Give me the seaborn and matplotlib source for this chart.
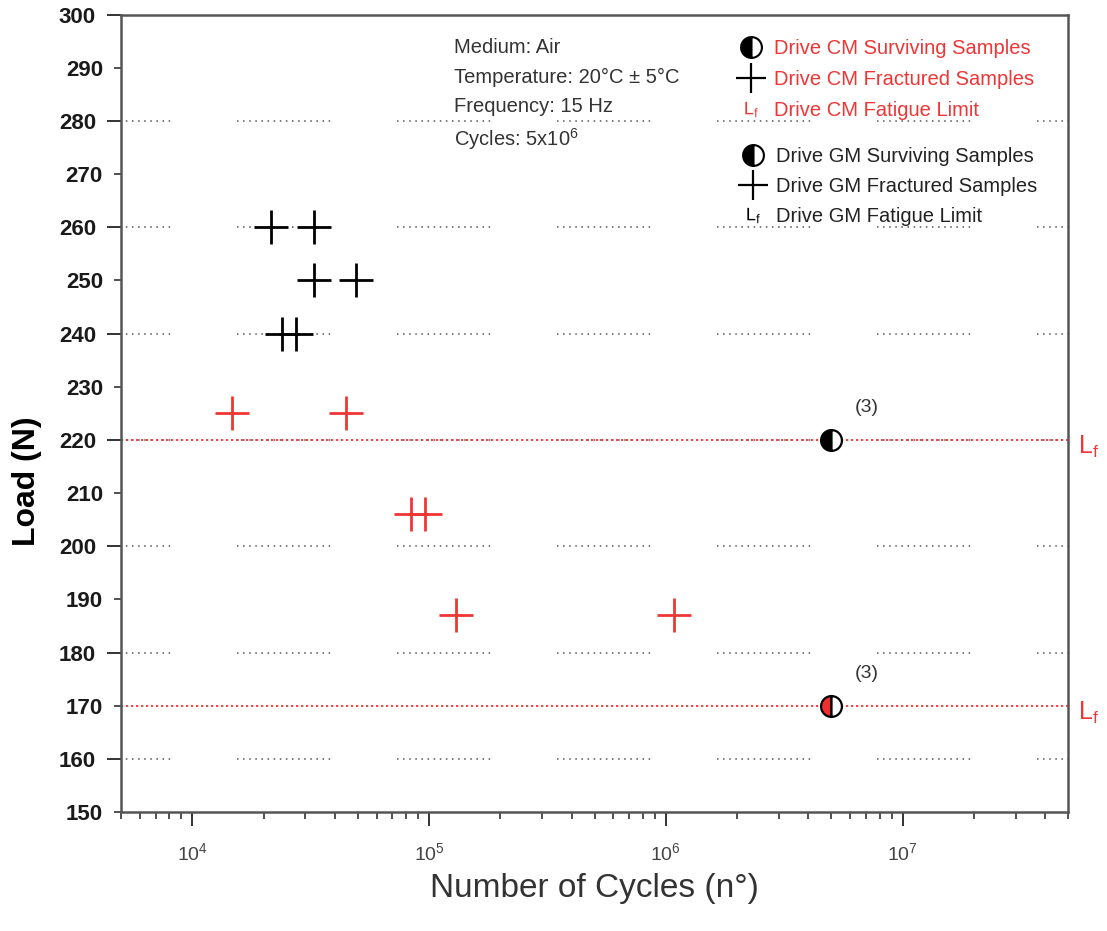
import numpy as np
import pandas as pd
import matplotlib
matplotlib.use("Agg")
import matplotlib.pyplot as plt
from matplotlib.lines import Line2D
from matplotlib.ticker import LogLocator, MultipleLocator, NullFormatter, FormatStrFormatter
import seaborn as sns

# dados
gm_cycles = [21500, 32600, 32600, 49300, 23900, 27300]
gm_load = [260, 260, 250, 250, 240, 240]
cm_cycles = [14700, 44400, 84000, 96000, 130000, 1080000]
cm_load = [225, 225, 206, 206, 187, 187]
surv_cycles = [5e6, 5e6]
surv_load = [220, 170]
surv_fill = ["black", "#f03030"]
fatigue_limits = [220, 170]
runout_count = ["(3)", "(3)"]
info_lines = ["Medium: Air", "Temperature: 20°C ± 5°C", "Frequency: 15 Hz",
              "Cycles: 5x10$^{\\mathregular{6}}$"]
cm_labels = ["Drive CM Surviving Samples", "Drive CM Fractured Samples", "Drive CM Fatigue Limit"]
gm_labels = ["Drive GM Surviving Samples", "Drive GM Fractured Samples", "Drive GM Fatigue Limit"]

RED = "#f03535"

sns.set_style("ticks")
plt.rcParams["font.family"] = ["Liberation Sans", "DejaVu Sans"]
plt.rcParams["mathtext.fontset"] = "custom"
plt.rcParams["mathtext.rm"] = "Liberation Sans"
plt.rcParams["mathtext.it"] = "Liberation Sans:italic"
plt.rcParams["lines.scale_dashes"] = False

df = pd.DataFrame({
    "cycles": gm_cycles + cm_cycles,
    "load": gm_load + cm_load,
    "grupo": ["GM"] * len(gm_cycles) + ["CM"] * len(cm_cycles),
})

fig = plt.figure(figsize=(11.07, 9.31), dpi=100)
ax = fig.add_axes([0.1093, 0.1278, 0.8555, 0.8565])
ax.set_xscale("log")

# grade pontilhada interrompida (estilo Origin)
grid_pattern = [1.1, 3.3] * 15 + [1.1, 48.1]
ax.yaxis.grid(True, which="major", color="#555555", lw=1.1, linestyle=(31.7, grid_pattern))
ax.set_axisbelow(True)

for lim in fatigue_limits:
    ax.axhline(lim, color=RED, lw=1.3, linestyle=(0, (1.6, 2.0)), zorder=2)

sns.scatterplot(data=df, x="cycles", y="load", hue="grupo",
                palette={"GM": "black", "CM": RED}, marker="+", s=600,
                linewidth=2.0, legend=False, ax=ax, zorder=3)

for c, l, fc in zip(surv_cycles, surv_load, surv_fill):
    ax.plot(c, l, marker="o", linestyle="", markersize=15, fillstyle="left",
            markerfacecolor=fc, markerfacecoloralt="white", markeredgecolor="black",
            markeredgewidth=1.6, zorder=4)

for l, t in zip(surv_load, runout_count):
    ax.annotate(t, (5e6, l), xytext=(17, 23), textcoords="offset points",
                fontsize=14, color="#333333", ha="left", va="center")
    ax.annotate(r"$\mathregular{L_f}$", (1, l), xycoords=("axes fraction", "data"),
                xytext=(7, -5), textcoords="offset points", fontsize=18,
                color=RED, ha="left", va="center", annotation_clip=False)

ax.set_xlim(5e3, 5e7)
ax.set_ylim(150, 300)
ax.xaxis.set_major_locator(LogLocator(base=10, numticks=10))
ax.xaxis.set_minor_locator(LogLocator(base=10, subs=np.arange(2, 10), numticks=20))
ax.xaxis.set_minor_formatter(NullFormatter())
ax.yaxis.set_major_locator(MultipleLocator(20))
ax.yaxis.set_minor_locator(MultipleLocator(10))
ax.yaxis.set_major_formatter(FormatStrFormatter("%d"))
ax.yaxis.set_minor_formatter(FormatStrFormatter("%d"))

for sp in ax.spines.values():
    sp.set_color("#555555")
    sp.set_linewidth(1.8)
ax.tick_params(which="major", length=10, width=1.4, color="#333333", direction="out")
ax.tick_params(which="minor", length=5, width=1.2, color="#333333", direction="out")
ax.tick_params(axis="y", which="both", labelsize=16, labelcolor="#1a1a1a", pad=8)
ax.tick_params(axis="x", which="both", labelsize=14, labelcolor="#444444", pad=12)
for lab in ax.get_yticklabels(which="both"):
    lab.set_fontweight("bold")

ax.set_xlabel("Number of Cycles (n°)", fontsize=24, color="#333333", labelpad=6)
ax.set_ylabel("Load (N)", fontsize=23, fontweight="bold", color="black")
ax.yaxis.set_label_coords(-0.083, 0.415)

# bloco de condições do ensaio
info_y = [0.9495, 0.9173, 0.8851, 0.8510]
for txt, yy in zip(info_lines, info_y):
    fig.text(0.410, yy, txt, fontsize=14.5, color="#333333", ha="left", va="center")

def handles(color):
    return [
        Line2D([], [], marker="o", linestyle="", markersize=15, fillstyle="left",
               markerfacecolor="black", markerfacecoloralt="white",
               markeredgecolor="black", markeredgewidth=1.5),
        Line2D([], [], marker="+", linestyle="", markersize=21, markeredgewidth=1.6,
               color="black"),
        Line2D([], [], marker=r"$\mathregular{L_f}$", linestyle="", markersize=11,
               markeredgewidth=0, color=color),
    ]

leg1 = ax.legend(handles("#f03535"), cm_labels, loc="upper left",
                 bbox_to_anchor=(0.669, 0.958), bbox_transform=fig.transFigure,
                 frameon=False, fontsize=14.5, labelcolor=RED, handlelength=1.0,
                 handletextpad=0.65, labelspacing=0.60, borderpad=0, borderaxespad=0)
ax.add_artist(leg1)
ax.legend(handles("black"), gm_labels, loc="upper left",
          bbox_to_anchor=(0.671, 0.842), bbox_transform=fig.transFigure,
          frameon=False, fontsize=14.5, labelcolor="#222222", handlelength=1.0,
          handletextpad=0.65, labelspacing=0.55, borderpad=0, borderaxespad=0)

fig.savefig("out.png", dpi=100)
